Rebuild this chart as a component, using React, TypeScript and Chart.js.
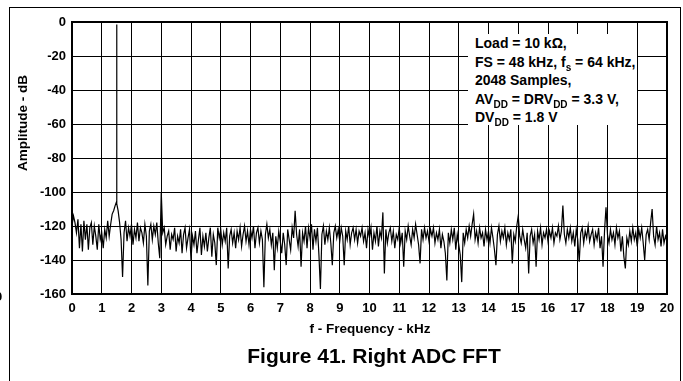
import React, { useEffect, useRef } from "react";
import { Chart, registerables } from "chart.js";

Chart.register(...registerables);

// FFT bins, 0.05 kHz apart, starting at 0 kHz
const binStepKHz = 0.05;

const amplitude0to5 = [
  -120, -114, -118, -124, -116, -133, -119, -135, -117, -128, -119, -134, -121, -118, -131, -120, -126, -134, -119, -128,
  -124, -133, -122, -127, -117, -126, -119, -113, -111, -108, -109, -111, -118, -128, -150, -124, -117, -129, -121, -126,
  -119, -131, -122, -127, -118, -129, -121, -124, -130, -119, -126, -155, -123, -119, -128, -120, -125, -118, -130, -139,
  -100, -124, -121, -131, -126, -123, -134, -125, -128, -121, -135, -126, -130, -122, -136, -125, -121, -133, -127, -122,
  -140, -126, -131, -123, -136, -128, -121, -137, -126, -132, -124, -135, -127, -121, -138, -125, -130, -143, -121, -127,
];

const amplitude5to10 = [
  -122, -131, -124, -129, -121, -145, -126, -122, -130, -124, -133, -123, -128, -121, -132, -125, -120, -129, -123, -131,
  -122, -127, -120, -133, -124, -121, -130, -123, -128, -156, -125, -119, -127, -122, -131, -124, -146, -126, -133, -123,
  -129, -136, -124, -131, -143, -122, -128, -134, -121, -127, -111, -125, -132, -122, -144, -124, -129, -120, -133, -121,
  -127, -119, -134, -122, -129, -121, -137, -157, -125, -120, -131, -123, -128, -121, -130, -143, -124, -120, -127, -122,
  -129, -121, -126, -143, -123, -128, -120, -131, -124, -121, -128, -122, -130, -123, -126, -121, -129, -124, -133, -122,
];

const amplitude10to15 = [
  -127, -121, -134, -124, -129, -120, -132, -123, -127, -112, -148, -122, -130, -124, -121, -129, -123, -133, -125, -128,
  -121, -130, -124, -144, -123, -128, -120, -126, -131, -122, -127, -119, -125, -131, -142, -122, -128, -121, -127, -123,
  -129, -122, -126, -121, -130, -124, -128, -122, -133, -125, -129, -136, -152, -124, -130, -122, -128, -121, -134, -125,
  -131, -137, -153, -124, -130, -122, -127, -120, -126, -119, -113, -128, -123, -130, -121, -127, -124, -132, -122, -128,
  -123, -130, -121, -127, -134, -143, -125, -120, -129, -123, -127, -121, -131, -124, -128, -122, -142, -125, -129, -120,
];

const amplitude15to20 = [
  -114, -126, -130, -122, -128, -133, -124, -148, -126, -122, -130, -125, -144, -123, -128, -121, -131, -124, -127, -122,
  -129, -123, -127, -121, -130, -124, -126, -120, -128, -123, -108, -125, -130, -122, -127, -121, -129, -124, -132, -122,
  -128, -141, -124, -121, -130, -123, -127, -120, -129, -125, -122, -131, -124, -128, -121, -133, -126, -144, -123, -109,
  -125, -130, -122, -128, -124, -131, -121, -127, -123, -135, -126, -138, -145, -127, -131, -123, -129, -121, -128, -124,
  -132, -122, -127, -121, -130, -140, -125, -122, -128, -118, -110, -126, -131, -120, -128, -124, -132, -122, -130, -126,
  -129,
];

// fundamental tone (narrow spike) at 1.5 kHz
const toneFreqsKHz = [1.49, 1.5, 1.51];
const toneAmplitudes = [-106, -1.5, -107];

const xTickValues = [0, 1, 2, 3, 4, 5, 6, 7, 8, 9, 10, 11, 12, 13, 14, 15, 16, 17, 18, 19, 20];
const yTickValues = [-160, -140, -120, -100, -80, -60, -40, -20, 0];

const xAxisTitle = "f - Frequency - kHz";
const yAxisTitle = "Amplitude - dB";
const figureTitle = "Figure 41. Right ADC FFT";

const FONT = "'Liberation Sans', Arial, Helvetica, sans-serif";

const plotBorder = {
  id: "plotBorder",
  afterDatasetsDraw(chart: any) {
    const { ctx, chartArea } = chart;
    ctx.save();
    ctx.strokeStyle = "#000";
    ctx.lineWidth = 2;
    ctx.strokeRect(chartArea.left, chartArea.top, chartArea.right - chartArea.left, chartArea.bottom - chartArea.top);
    ctx.restore();
  },
};

export default function App() {
  const canvasRef = useRef<HTMLCanvasElement | null>(null);

  useEffect(() => {
    const amplitudes = [...amplitude0to5, ...amplitude5to10, ...amplitude10to15, ...amplitude15to20];
    const binPoints = amplitudes
      .map((y, i) => ({ x: Math.round(i * binStepKHz * 100) / 100, y }))
      .filter((p) => !toneFreqsKHz.includes(p.x));
    const tonePoints = toneFreqsKHz.map((x, i) => ({ x, y: toneAmplitudes[i] }));
    const points = [...binPoints, ...tonePoints].sort((a, b) => a.x - b.x);
    const tickFont = { family: FONT, size: 13, weight: "bold" as const };

    const chart = new Chart(canvasRef.current!, {
      type: "line",
      data: {
        datasets: [
          {
            data: points,
            borderColor: "#000",
            borderWidth: 1.2,
            pointRadius: 0,
            tension: 0,
          },
        ],
      },
      options: {
        animation: false,
        responsive: false,
        layout: { padding: { left: 0, right: 16, top: 22, bottom: 0 } },
        plugins: { legend: { display: false }, tooltip: { enabled: false }, title: { display: false } },
        scales: {
          x: {
            type: "linear",
            min: 0,
            max: 20,
            afterBuildTicks: (scale: any) => {
              scale.ticks = xTickValues.map((v) => ({ value: v }));
            },
            afterFit: (scale: any) => {
              scale.height = 87;
            },
            grid: { color: "#000", lineWidth: 1, drawTicks: false },
            border: { display: false },
            ticks: { color: "#000", font: tickFont, padding: 7, maxRotation: 0, autoSkip: false },
          },
          y: {
            type: "linear",
            min: -160,
            max: 0,
            afterBuildTicks: (scale: any) => {
              scale.ticks = yTickValues.map((v) => ({ value: v }));
            },
            afterFit: (scale: any) => {
              scale.width = 72;
            },
            grid: { color: "#000", lineWidth: 1, drawTicks: false },
            border: { display: false },
            ticks: { color: "#000", font: tickFont, padding: 6, autoSkip: false },
          },
        },
      },
      plugins: [plotBorder],
    });
    return () => chart.destroy();
  }, []);

  const center = (x: number, y: number, size: number, extra: any = {}) => ({
    position: "absolute" as const,
    left: x,
    top: y,
    transform: "translate(-50%, -50%)" + (extra.rotate ? ` rotate(${extra.rotate}deg)` : ""),
    fontFamily: FONT,
    fontWeight: "bold" as const,
    fontSize: size,
    lineHeight: 1,
    whiteSpace: "nowrap" as const,
    color: "#000",
  });

  const sub = (t: string) => (
    <span style={{ fontSize: 10, position: "relative", top: 4 }}>{t}</span>
  );

  const lineStyle = { height: 18.5, lineHeight: "18.5px", whiteSpace: "nowrap" as const };

  return (
    <div
      style={{
        position: "fixed",
        left: 0,
        top: 0,
        width: 683,
        height: 381,
        background: "#fff",
        overflow: "hidden",
      }}
    >
      <canvas ref={canvasRef} width={683} height={381} style={{ position: "absolute", left: 0, top: 0, width: 683, height: 381 }} />
      {/* page frame */}
      <div style={{ position: "absolute", left: 9, top: 7, width: 670, height: 400, borderLeft: "1px solid #000", borderTop: "1px solid #000", borderRight: "1px solid #000" }} />
      <div style={{ position: "absolute", left: -5, top: 290, fontFamily: FONT, fontWeight: "bold", fontSize: 13, lineHeight: 1 }}>0</div>
      <div style={center(23, 123, 13.5, { rotate: -90 })}>{yAxisTitle}</div>
      <div style={center(370, 329, 13.5)}>{xAxisTitle}</div>
      <div style={center(374, 355, 21)}>{figureTitle}</div>
      <div
        style={{
          position: "absolute",
          left: 468,
          top: 34,
          width: 169,
          height: 91,
          background: "#fff",
          boxSizing: "border-box",
          paddingLeft: 7,
          fontFamily: FONT,
          fontWeight: "bold",
          fontSize: 14,
          color: "#000",
        }}
      >
        <div style={lineStyle}>Load = 10 kΩ,</div>
        <div style={lineStyle}>FS = 48 kHz, f{sub("s")} = 64 kHz,</div>
        <div style={lineStyle}>2048 Samples,</div>
        <div style={lineStyle}>AV{sub("DD")} = DRV{sub("DD")} = 3.3 V,</div>
        <div style={lineStyle}>DV{sub("DD")} = 1.8 V</div>
      </div>
    </div>
  );
}
